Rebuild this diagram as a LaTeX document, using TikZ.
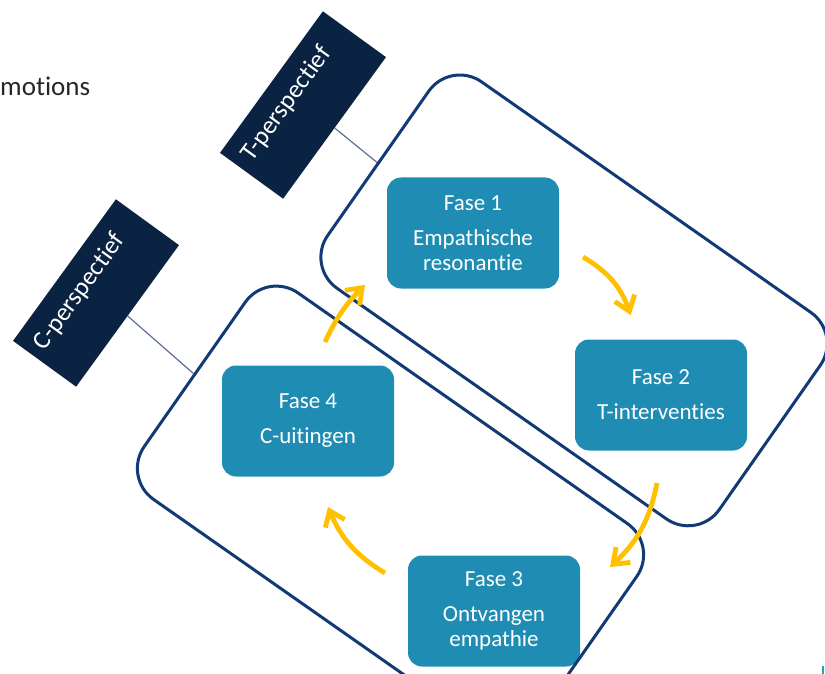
\documentclass[tikz,border=0pt]{standalone}
\usepackage{fontspec}
\setmainfont{Carlito}[Ligatures=NoCommon]
\usetikzlibrary{arrows.meta,calc}
\definecolor{tagcol}{HTML}{0B2342}
\definecolor{fasefill}{HTML}{1F8DB3}
\definecolor{zonecol}{HTML}{123A74}
\definecolor{cyccol}{HTML}{FFC000}
\definecolor{linkcol}{HTML}{5A7090}
\begin{document}
\begin{tikzpicture}[x=1pt,y=-1pt,
  zone/.style={draw=zonecol, line width=3pt, rounded corners=38pt,
    minimum width=478pt, minimum height=252pt, rotate=-35, inner sep=0pt},
  tag/.style={fill=tagcol, minimum width=175pt, minimum height=78pt,
    rotate=54, inner sep=0pt},
  tagtext/.style={text=white, rotate=54, inner sep=0pt, anchor=base,
    font=\fontsize{25.5}{30}\selectfont},
  fase/.style={fill=fasefill, text=white, rounded corners=14pt,
    minimum width=172pt, minimum height=111pt, align=center, inner sep=0pt,
    font=\fontsize{23}{25}\selectfont},
  cyc/.style={draw=cyccol, line width=4.8pt,
    -{Straight Barb[length=14pt,width=21pt]}},
  link/.style={draw=linkcol, line width=1.2pt}]
\useasboundingbox (0,0) rectangle (825,674);

% heading fragment
\node[anchor=base west, inner sep=0pt, text=black!85,
  font=\fontsize{27}{30}\selectfont] (head) at (0,95.5) {motions};

% perspective tags, text set towards their upper side
\node[tag] (tlab) at (303,105) {};
\node[tag] (clab) at (96,293) {};
\node[tagtext] (tlabtxt) at ($(tlab.center)!0.2!(tlab.north)!0.1!(tlab.west)$) {T-perspectief};
\node[tagtext] (clabtxt) at ($(clab.center)!0.2!(clab.north)!0.1!(clab.west)$) {C-perspectief};

% phase boxes
\node[fase] (f1) at (473,233) {Fase 1\\[10pt]Empathische\\resonantie};
\node[fase] (f2) at (661,395) {Fase 2\\[10pt]T-interventies};
\node[fase] (f3) at (494,611) {Fase 3\\[10pt]Ontvangen\\empathie};
\node[fase] (f4) at (308,421) {Fase 4\\[10pt]C-uitingen};

% perspective zones
\node[zone] (tzone) at (574,300.4) {};
\node[zone] (czone) at (390.5,511.5) {};

% tags linked to their zones
\draw[link] (tlab.south) -- (tzone.west);
\draw[link] (clab.south) -- (czone.west);

% cycle arrows
\coordinate (a1s) at (583,257);
\coordinate (a1e) at (630.7,315);
\coordinate (a2s) at (657,483);
\coordinate (a2e) at (610,567);
\coordinate (a3s) at (385,573);
\coordinate (a3e) at (328,507);
\coordinate (a4s) at (325,342);
\coordinate (a4e) at (365,285);
\draw[cyc] (a1s) to[bend left=20] (a1e);
\draw[cyc] (a2s) to[bend left=18] (a2e);
\draw[cyc] (a3s) to[bend left=18] (a3e);
\draw[cyc] (a4s) to[bend left=10] (a4e);

% small mark in the corner
\fill[fasefill!80!cyan] (821.5,666) rectangle (824,674);
\end{tikzpicture}
\end{document}
